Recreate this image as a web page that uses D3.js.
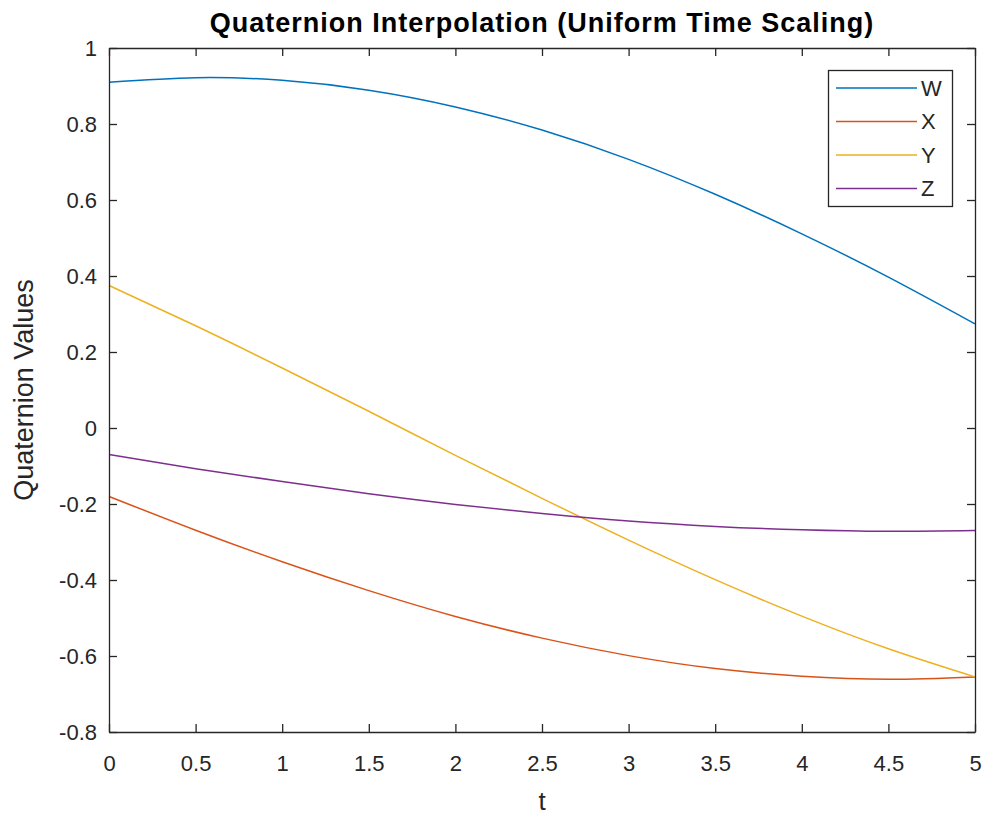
<!DOCTYPE html>
<html>
<head>
<meta charset="utf-8">
<script src="https://cdn.jsdelivr.net/npm/d3@7"></script>
<style>
  html, body { margin: 0; padding: 0; background: #fff; }
  svg { display: block; font-family: "Liberation Sans", Arial, Helvetica, sans-serif; }
</style>
</head>
<body>
<svg id="chart" width="984" height="815"></svg>
<script>
// ---- data ----
const tValues = [0, 0.5, 1, 1.5, 2, 2.5, 3, 3.5, 4, 4.5, 5];
const wValues = [0.910, 0.922, 0.915, 0.889, 0.845, 0.784, 0.707, 0.615, 0.511, 0.397, 0.274];
const xValues = [-0.180, -0.269, -0.352, -0.428, -0.496, -0.553, -0.599, -0.633, -0.653, -0.661, -0.655];
const yValues = [0.375, 0.269, 0.158, 0.044, -0.072, -0.185, -0.295, -0.399, -0.495, -0.581, -0.655];
const zValues = [-0.070, -0.107, -0.141, -0.173, -0.201, -0.225, -0.245, -0.259, -0.268, -0.272, -0.270];
const seriesNames = ["W", "X", "Y", "Z"];
const seriesColors = ["#0072BD", "#D95319", "#EDB120", "#7E2F8E"];
const xTicks = [0, 0.5, 1, 1.5, 2, 2.5, 3, 3.5, 4, 4.5, 5];
const yTicks = [-0.8, -0.6, -0.4, -0.2, 0, 0.2, 0.4, 0.6, 0.8, 1];
const titleText = "Quaternion Interpolation (Uniform Time Scaling)";
const xLabelText = "t";
const yLabelText = "Quaternion Values";

const series = [wValues, xValues, yValues, zValues].map((vals, i) => ({
  name: seriesNames[i], color: seriesColors[i],
  points: tValues.map((t, j) => [t, vals[j]])
}));

// ---- layout ----
const mLeft = 109, mRight = 975, mTop = 48, mBottom = 732;
const axisColor = "#262626";
const svg = d3.select("#chart");

const x = d3.scaleLinear().domain([0, 5]).range([mLeft, mRight]);
const y = d3.scaleLinear().domain([-0.8, 1]).range([mBottom, mTop]);

const fmt = d => (Math.abs(d) < 1e-9 ? "0" : String(+d.toFixed(1)));
const tickLen = 8;

// lines
const line = d3.line().x(d => x(d[0])).y(d => y(d[1])).curve(d3.curveNatural);
svg.append("g").selectAll("path").data(series).join("path")
  .attr("d", d => line(d.points))
  .attr("fill", "none")
  .attr("stroke", d => d.color)
  .attr("stroke-width", 1.5);

// axes (MATLAB-like box with inward ticks)
const bottomAxis = d3.axisBottom(x).tickValues(xTicks).tickFormat(fmt).tickSizeInner(-tickLen).tickSizeOuter(0).tickPadding(0);
const topAxis = d3.axisTop(x).tickValues(xTicks).tickFormat("").tickSizeInner(-tickLen).tickSizeOuter(0);
const leftAxis = d3.axisLeft(y).tickValues(yTicks).tickFormat(fmt).tickSizeInner(-tickLen).tickSizeOuter(0).tickPadding(0);
const rightAxis = d3.axisRight(y).tickValues(yTicks).tickFormat("").tickSizeInner(-tickLen).tickSizeOuter(0);

function style(g) {
  g.selectAll("path.domain").attr("stroke", axisColor).attr("stroke-width", 1.3);
  g.selectAll(".tick line").attr("stroke", axisColor).attr("stroke-width", 1.3);
  g.selectAll(".tick text").attr("fill", axisColor).style("font-size", "22px")
    .style("font-family", '"Liberation Sans", Arial, sans-serif');
}
const gb = svg.append("g").attr("transform", `translate(0,${mBottom})`).call(bottomAxis).call(style);
gb.selectAll(".tick text").attr("y", 39).attr("dy", null);
const gt = svg.append("g").attr("transform", `translate(0,${mTop})`).call(topAxis).call(style);
const gl = svg.append("g").attr("transform", `translate(${mLeft},0)`).call(leftAxis).call(style);
gl.selectAll(".tick text").attr("x", -12).attr("dy", "0.35em");
const gr = svg.append("g").attr("transform", `translate(${mRight},0)`).call(rightAxis).call(style);

// title and labels
svg.append("text").attr("x", (mLeft + mRight) / 2).attr("y", 32)
  .attr("text-anchor", "middle").attr("font-weight", "bold")
  .style("font-size", "27px").style("letter-spacing", "1px").attr("fill", "#000").text(titleText);
svg.append("text").attr("x", (mLeft + mRight) / 2).attr("y", 810)
  .attr("text-anchor", "middle").style("font-size", "26px").attr("fill", axisColor).text(xLabelText);
svg.append("text").attr("transform", `translate(33,${(mTop + mBottom) / 2}) rotate(-90)`)
  .attr("text-anchor", "middle").style("font-size", "27px").attr("fill", axisColor).text(yLabelText);

// legend
const lg = svg.append("g");
lg.append("rect").attr("x", 828.5).attr("y", 70.5).attr("width", 124).attr("height", 136)
  .attr("fill", "#fff").attr("stroke", axisColor).attr("stroke-width", 1.3);
const rows = lg.selectAll("g.row").data(series).join("g").attr("class", "row")
  .attr("transform", (d, i) => `translate(0,${88 + i * 33.5})`);
rows.append("line").attr("x1", 836).attr("x2", 917).attr("y1", 0).attr("y2", 0)
  .attr("stroke", d => d.color).attr("stroke-width", 1.5);
rows.append("text").attr("x", 921).attr("y", 0).attr("dy", "0.35em")
  .style("font-size", "22px").attr("fill", axisColor).text(d => d.name);
</script>
</body>
</html>
